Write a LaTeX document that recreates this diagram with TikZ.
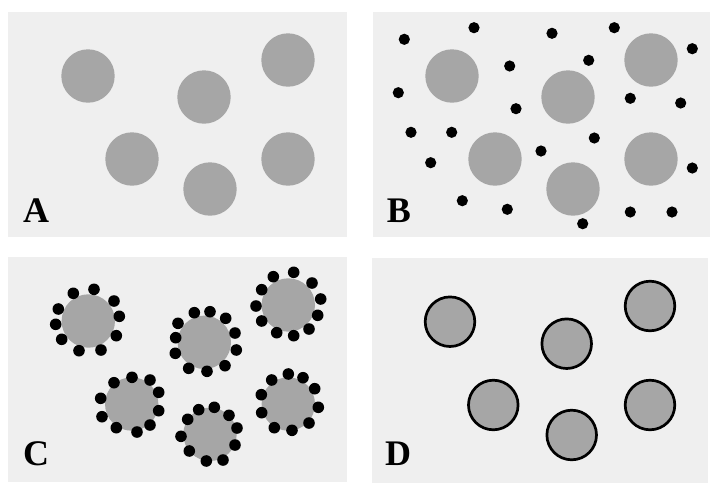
\documentclass[tikz,border=0pt]{standalone}
\usepackage{fontspec}
\setmainfont{Liberation Serif}
\definecolor{panelbg}{HTML}{EFEFEF}
\definecolor{particle}{HTML}{A6A6A6}
\begin{document}
\begin{tikzpicture}[x=1pt,y=-1pt,
  panel/.style={fill=panelbg},
  bigcirc/.style={fill=particle},
  ringcirc/.style={fill=particle,draw=black,line width=2.7pt},
  smalldot/.style={fill=black},
  lbl/.style={anchor=base,font=\fontsize{36}{36}\selectfont\bfseries,inner sep=0pt}]
\useasboundingbox (0,0) rectangle (716,491);
\fill[white] (0,0) rectangle (716,491);
% panels
\fill[panel] (8,12) rectangle (347,237);
\fill[panel] (373,12) rectangle (710,237);
\fill[panel] (8,257) rectangle (347,482);
\fill[panel] (372,258) rectangle (708,483);
% Panel A
\foreach \p in {(88,76),(204,97),(288,60),(132,159),(210,189),(288,159)}
  \fill[bigcirc] \p circle (26.7pt);
\node[lbl] (la) at (36,222.5) {A};
% Panel B
\foreach \p in {(452,76),(568,97),(651,60),(495,159),(573,189),(651,159)}
  \fill[bigcirc] \p circle (26.7pt);
\foreach \p in {(404.3,39.3),(474,27.7),(552,33.3),(614.3,27.7),(692.3,48.7),(509.7,66),
  (588.7,60.3),(398.3,92.7),(516,108.7),(630.3,98.3),(680.7,103),(411,132.3),(451.7,132.3),
  (594.3,138),(541,151),(430.7,162.7),(692.3,168),(462.3,200.7),(507.3,209.3),(582.7,223.7),
  (630.3,212),(672,212)}
  \fill[smalldot] \p circle (5.6pt);
\node[lbl] (lb) at (399,222.5) {B};
% Panel C
\foreach \p in {(88.3,321),(204.3,342.3),(288.3,305),(131.7,404),(210,434.3),(288.3,404)}
  \fill[bigcirc] \p circle (26.7pt);
\foreach \p in {
  (73.3,293.3),(94,289.3),(114,301),(119.3,316.3),(116.3,335.7),(101,350),(79,350.7),(61.7,339.3),(55.7,324.3),(58.3,309),
  (194.3,312.7),(210,311.7),(225.7,318.3),(235,333),(236.3,350),(225,365.7),(207,371.3),(188.7,368.3),(175.3,353.3),(175.7,337.7),(178,323.3),
  (273.3,276.7),(293.7,272.3),(312,283),(320.7,299),(317.7,315.3),(309,329),(293.7,335.7),(276.7,332.7),(261.7,321),(256,306),(261.7,289.7),
  (114,382.7),(132,377.3),(150,380),(158.7,392.3),(158.7,410.7),(150,425),(137,432),(116.3,427.7),(102,416.7),(100.7,398.3),
  (198.7,409.7),(214.3,407.3),(229,415.3),(237,428),(235,445),(223,460),(206.3,461),(189.3,451),(181,436.3),(187.7,419.3),
  (271.7,380),(288.3,374),(303,377.7),(314.7,388.7),(318.3,407.3),(309,423),(292,430.3),(274.3,427.7),(261.7,412.7),(261.3,394.7)}
  \fill[smalldot] \p circle (5.8pt);
\node[lbl] (lc) at (36,465) {C};
% Panel D
\foreach \p in {(450,321.7),(566.7,343.7),(650,306),(493.3,405),(571.7,435),(650,405)}
  \draw[ringcirc] \p circle (24.8pt);
\node[lbl] (ld) at (398,465) {D};
\end{tikzpicture}
\end{document}
